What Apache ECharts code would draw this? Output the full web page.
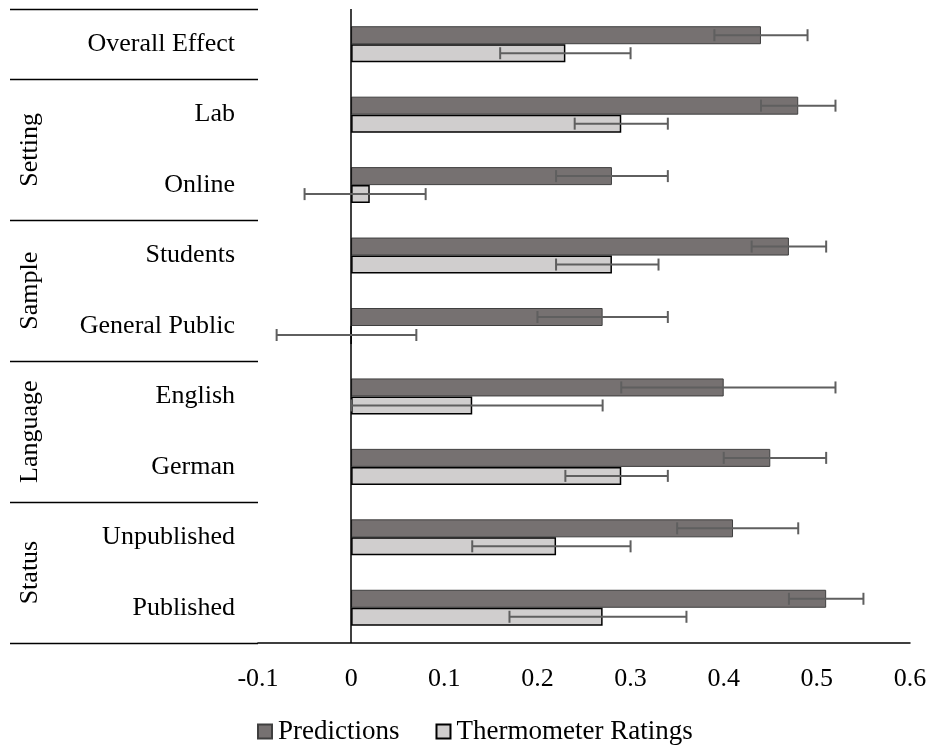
<!DOCTYPE html>
<html>
<head>
<meta charset="utf-8">
<script src="https://cdn.jsdelivr.net/npm/echarts@6/dist/echarts.min.js"></script>
<style>
  html, body { margin: 0; padding: 0; background: #fff; }
  #chart { width: 930px; height: 747px; }
</style>
</head>
<body>
<div id="chart"></div>
<script>
// Moderator categories, top to bottom
const categories = ['Overall Effect', 'Lab', 'Online', 'Students', 'General Public',
                    'English', 'German', 'Unpublished', 'Published'];

// Moderator groups (first and last category index of each)
const groupNames = ['Setting', 'Sample', 'Language', 'Status'];
const groupFirst = [1, 3, 5, 7];
const groupLast  = [2, 4, 6, 8];

// Effect sizes with confidence limits
const predictions     = [0.44, 0.48, 0.28, 0.47, 0.27, 0.40, 0.45, 0.41, 0.51];
const predictionsLow  = [0.39, 0.44, 0.22, 0.43, 0.20, 0.29, 0.40, 0.35, 0.47];
const predictionsHigh = [0.49, 0.52, 0.34, 0.51, 0.34, 0.52, 0.51, 0.48, 0.55];

const thermometer     = [0.23, 0.29, 0.02, 0.28, 0.00, 0.13, 0.29, 0.22, 0.27];
const thermometerLow  = [0.16, 0.24, -0.05, 0.22, -0.08, 0.00, 0.23, 0.13, 0.17];
const thermometerHigh = [0.30, 0.34, 0.08, 0.33, 0.07, 0.27, 0.34, 0.30, 0.36];

// Value axis
const xMin = -0.1, xMax = 0.6, xStep = 0.1;

const FONT = 'Liberation Serif';
const FS = 26;
const BAR_W = 18;
const GRID = { left: 258, right: 20, top: 9, bottom: 104 };

function errorSeries(name, low, high, shift) {
  return {
    name: name,
    type: 'custom',
    z: 5,
    silent: true,
    encode: { y: 0, x: [1, 2] },
    data: categories.map((c, i) => [i, low[i], high[i]]),
    renderItem: function (params, api) {
      const a = api.coord([api.value(1), api.value(0)]);
      const b = api.coord([api.value(2), api.value(0)]);
      const y = a[1] + shift;
      const cap = 6;
      const style = { stroke: '#5f5f5f', lineWidth: 2 };
      return {
        type: 'group',
        children: [
          { type: 'line', shape: { x1: a[0], y1: y, x2: b[0], y2: y }, style: style },
          { type: 'line', shape: { x1: a[0], y1: y - cap, x2: a[0], y2: y + cap }, style: style },
          { type: 'line', shape: { x1: b[0], y1: y - cap, x2: b[0], y2: y + cap }, style: style }
        ]
      };
    }
  };
}

const chart = echarts.init(document.getElementById('chart'), null, { renderer: 'canvas' });

chart.setOption({
  animation: false,
  backgroundColor: '#ffffff',
  textStyle: { fontFamily: FONT },
  grid: GRID,
  legend: {
    data: ['Predictions', 'Thermometer Ratings'],
    top: 713,
    left: 252,
    icon: 'rect',
    itemWidth: 14,
    itemHeight: 14,
    itemGap: 36,
    textStyle: { fontFamily: FONT, fontSize: 27, color: '#000', padding: [0, 0, 0, 1] }
  },
  xAxis: {
    type: 'value',
    min: xMin,
    max: xMax,
    interval: xStep,
    splitLine: { show: false },
    axisTick: { show: false },
    axisLine: { show: true, lineStyle: { color: '#000', width: 1.5 } },
    axisLabel: {
      margin: 23,
      fontFamily: FONT,
      fontSize: FS,
      color: '#000',
      formatter: v => (Math.round(v * 10) / 10).toString()
    }
  },
  yAxis: {
    type: 'category',
    data: categories,
    inverse: true,
    axisLine: { show: false },
    axisTick: { show: false },
    splitLine: { show: false },
    axisLabel: { margin: 23, fontFamily: FONT, fontSize: FS, color: '#000' }
  },
  series: [
    {
      name: 'Predictions',
      type: 'bar',
      barWidth: BAR_W,
      barGap: '0%',
      data: predictions,
      itemStyle: { color: '#767171', borderColor: '#3f3f3f', borderWidth: 1 },
      markLine: {
        silent: true,
        symbol: 'none',
        label: { show: false },
        lineStyle: { color: '#000', width: 1.5, type: 'solid' },
        data: [{ xAxis: 0 }]
      }
    },
    {
      name: 'Thermometer Ratings',
      type: 'bar',
      barWidth: BAR_W,
      barGap: '0%',
      data: thermometer,
      itemStyle: { color: '#d0cece', borderColor: '#000', borderWidth: 1.5 }
    },
    errorSeries('predErr', predictionsLow, predictionsHigh, -BAR_W / 2),
    errorSeries('thermErr', thermometerLow, thermometerHigh, BAR_W / 2)
  ]
});

// Group separators and rotated group titles in the label column
function drawGroups() {
  const c0 = chart.convertToPixel({ yAxisIndex: 0 }, 0);
  const c1 = chart.convertToPixel({ yAxisIndex: 0 }, 1);
  const band = c1 - c0;
  const edge = i => c0 - band / 2 + i * band;
  const x0 = 10, x1 = GRID.left;
  const elements = [];
  const cuts = [0, 1];
  groupLast.forEach(g => cuts.push(g + 1));
  cuts.forEach(k => {
    const y = Math.round(edge(k)) + 0.5;
    elements.push({
      type: 'line', silent: true,
      shape: { x1: x0, y1: y, x2: x1, y2: y },
      style: { stroke: '#000', lineWidth: 1.5 }
    });
  });
  groupNames.forEach((name, i) => {
    const yc = (edge(groupFirst[i]) + edge(groupLast[i] + 1)) / 2;
    elements.push({
      type: 'text', silent: true,
      x: 30, y: yc, rotation: Math.PI / 2,
      style: {
        text: name, fontFamily: FONT, fontSize: FS, fill: '#000',
        align: 'center', verticalAlign: 'middle'
      }
    });
  });
  chart.setOption({ graphic: elements });
}
drawGroups();
</script>
</body>
</html>
